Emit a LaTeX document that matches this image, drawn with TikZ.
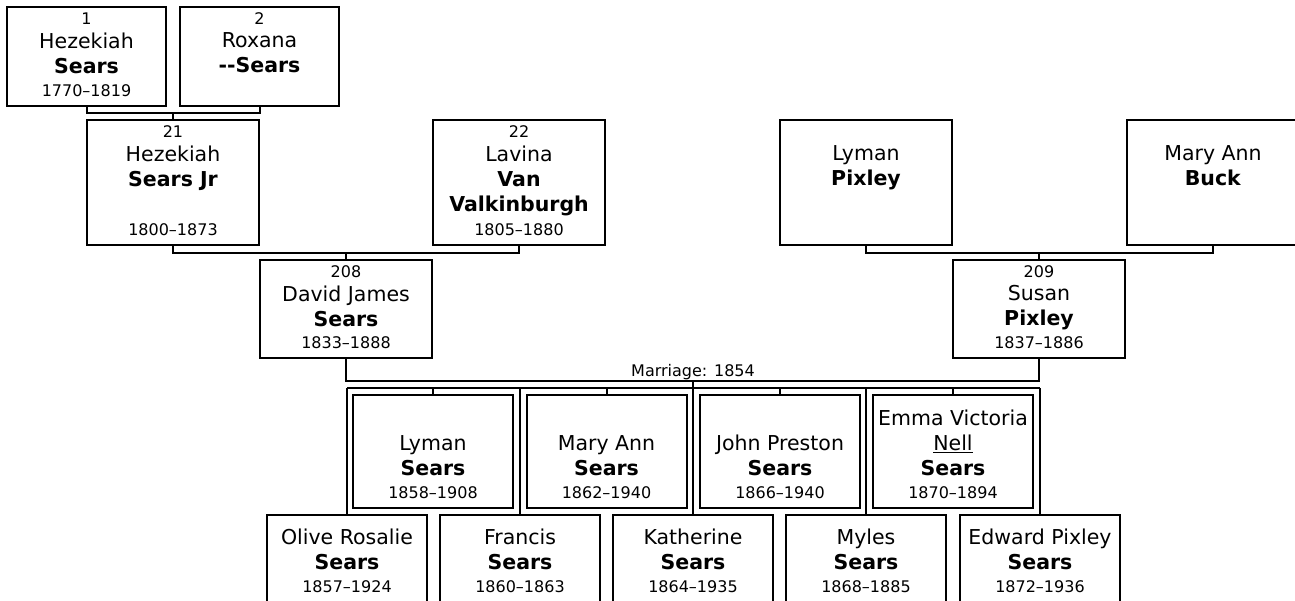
\documentclass[tikz,border=0pt]{standalone}
\usepackage{fontspec}
\setmainfont{DejaVu Sans}
\usetikzlibrary{positioning}

\newcommand{\namefont}{\fontsize{20.5}{25}\selectfont}
\newcommand{\smallfont}{\fontsize{16}{19}\selectfont}

% ancestor: name, x, top, width, height, number, names, dates
\newcommand{\ancbox}[8]{%
  \node[pbox, minimum width=#4, minimum height=#5] (#1) at (#2,#3) {};
  \node[small, anchor=base] (#1-num) at ([yshift=-17pt]#1.north) {#6};
  \node[names, anchor=north] (#1-name) at ([yshift=-25.5pt]#1.north) {#7};
  \node[small, anchor=base] (#1-date) at ([yshift=10pt]#1.south) {#8};
}
% child: name, x, top, height, names, dates
\newcommand{\kidbox}[6]{%
  \node[pbox, minimum width=160, minimum height=#4] (#1) at (#2,#3) {};
  \node[names, anchor=south] (#1-name) at ([yshift=24.5pt]#1.south) {#5};
  \node[small, anchor=base] (#1-date) at ([yshift=10pt]#1.south) {#6};
}

\begin{document}
\begin{tikzpicture}[x=1pt, y=-1pt,
    pbox/.style={draw, line width=2pt, anchor=north, inner sep=0pt, outer sep=0pt},
    names/.style={font=\namefont, align=center, inner sep=0pt,
      execute at begin node=\strut, execute at end node=\strut},
    small/.style={font=\smallfont, inner sep=0pt},
    link/.style={line width=2pt}]
    \useasboundingbox (0,0) rectangle (1295,600);
    \clip (0,0) rectangle (1295,600);

    \ancbox{b1}{86.5}{7}{159}{99}{1}{Hezekiah\\\textbf{Sears}}{1770–1819}
    \ancbox{b2}{259.5}{7}{159}{99}{2}{Roxana\\\textbf{-{}-Sears}}{}
    \ancbox{b21}{173}{120}{172}{125}{21}{Hezekiah\\\textbf{Sears Jr}}{1800–1873}
    \ancbox{b22}{519}{120}{172}{125}{22}{Lavina\\\textbf{Van}\\\textbf{Valkinburgh}}{1805–1880}
    \ancbox{bLP}{866}{120}{172}{125}{}{Lyman\\\textbf{Pixley}}{}
    \ancbox{bMB}{1213}{120}{172}{125}{}{Mary Ann\\\textbf{Buck}}{}
    \ancbox{b208}{346}{260}{172}{98}{208}{David James\\\textbf{Sears}}{1833–1888}
    \ancbox{b209}{1039}{260}{172}{98}{209}{Susan\\\textbf{Pixley}}{1837–1886}

    \kidbox{cL}{433}{395}{113}{Lyman\\\textbf{Sears}}{1858–1908}
    \kidbox{cMA}{606.5}{395}{113}{Mary Ann\\\textbf{Sears}}{1862–1940}
    \kidbox{cJP}{780}{395}{113}{John Preston\\\textbf{Sears}}{1866–1940}
    \kidbox{cEV}{953}{395}{113}{Emma Victoria\\\underline{Nell}\\\textbf{Sears}}{1870–1894}
    \kidbox{cOR}{347}{515}{87}{Olive Rosalie\\\textbf{Sears}}{1857–1924}
    \kidbox{cF}{520}{515}{87}{Francis\\\textbf{Sears}}{1860–1863}
    \kidbox{cK}{693}{515}{87}{Katherine\\\textbf{Sears}}{1864–1935}
    \kidbox{cM}{866}{515}{87}{Myles\\\textbf{Sears}}{1868–1885}
    \kidbox{cEP}{1040}{515}{87}{Edward Pixley\\\textbf{Sears}}{1872–1936}

    \draw[link] (b1.south) -- ++(0,7) coordinate (j1) -| (b2.south);
    \draw[link] (b21.north |- j1) -- (b21.north);
    \draw[link] (b21.south) -- ++(0,8) coordinate (j2) -| (b22.south);
    \draw[link] (b208.north |- j2) -- (b208.north);
    \draw[link] (bLP.south) -- ++(0,8) coordinate (j3) -| (bMB.south);
    \draw[link] (b209.north |- j3) -- (b209.north);

    \draw[link] (b208.south) -- ++(0,23) coordinate (mline) -| (b209.south);
    \node[small, anchor=base] (marr) at ([yshift=5pt]cK.north |- mline) {Marriage: 1854};
    \draw[link] (cK.north |- mline) -- ++(0,7) coordinate (sib);
    \draw[link] (cOR.north |- sib) -- (cEP.north |- sib);
    \foreach \c in {cOR,cL,cF,cMA,cK,cJP,cM,cEV,cEP}
        \draw[link] (\c.north |- sib) -- (\c.north);
\end{tikzpicture}
\end{document}
